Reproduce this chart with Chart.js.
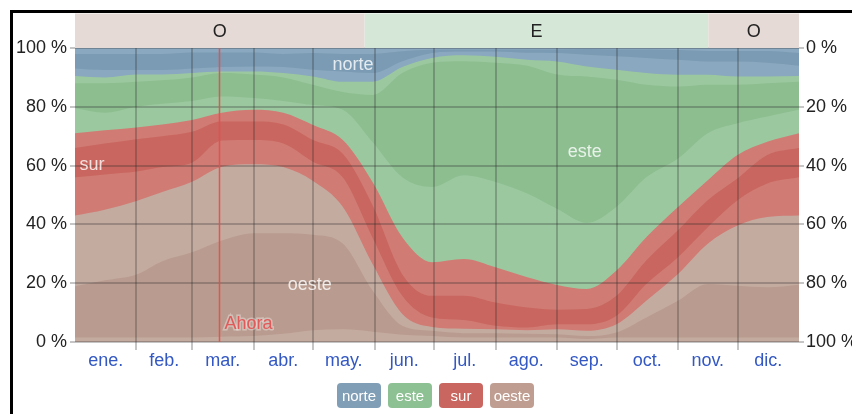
<!DOCTYPE html>
<html>
<head>
  <meta charset="UTF-8">
  <script src="https://cdn.jsdelivr.net/npm/chart.js"></script>
  <title>Dirección del viento</title>
  <style>
    body { margin: 0; width: 852px; height: 414px; overflow: hidden; background: #fff; font-family: "Liberation Sans", Arial, sans-serif; }
    .frame { position: absolute; left: 10px; top: 10px; width: 900px; height: 500px; border-left: 3px solid #000; border-top: 3px solid #000; }
    #windChart { position: absolute; left: 0; top: 0; }
    .legend { position: absolute; left: 337px; top: 383px; display: flex; gap: 7px; }
    .legend span { width: 44px; height: 25px; line-height: 25px; border-radius: 4px; color: #fff; font-size: 15px; text-align: center; }
  </style>
</head>
<body>
  <div class="frame"></div>
  <canvas id="windChart" width="852" height="414"></canvas>
  <div class="legend">
    <span style="background:#809eb6">norte</span>
    <span style="background:#8dc093">este</span>
    <span style="background:#c8665f">sur</span>
    <span style="background:#bf9e91">oeste</span>
  </div>
  <script>
    // dia del año de cada muestra
    var days = [0, 15, 31, 44, 59, 74, 90, 105, 120, 135, 150, 165, 180, 196, 212, 228, 243, 258, 273, 288, 304, 319, 334, 349, 365];

    // limites acumulados (%) de abajo hacia arriba
    var nwLow   = [1.5, 1.5, 1.5, 1.5, 1.5, 1.8, 2, 2.8, 4, 4.3, 3.5, 2.5, 2, 1.5, 1.5, 1.5, 1.5, 1, 1.5, 1.5, 1.5, 1.5, 1.5, 1.5, 1.5];
    var west    = [19, 21, 23, 27.5, 30.5, 34.5, 37, 37, 36.5, 33.5, 17.5, 5.5, 3.8, 3, 3, 2.8, 2.6, 2, 3.2, 8.3, 14, 19.7, 19.1, 18.6, 19.5];
    var swWest  = [43, 45, 48, 51, 54.5, 59.6, 60.5, 59.5, 54.8, 46, 26.5, 9.5, 5.1, 4.5, 4.3, 4, 4.3, 3.8, 6, 14, 23.1, 33.4, 39.6, 42.5, 43];
    var swSouth = [56, 57, 58, 59.5, 61, 68.5, 68.7, 67.5, 61.3, 56, 35.5, 15.7, 8.3, 7.5, 5.5, 4.9, 6, 6, 8.9, 19.7, 28.8, 39, 48.2, 53.9, 56];
    var south   = [66, 67.5, 69, 70, 71.5, 75, 75, 74, 68.7, 64, 46.5, 23, 15.7, 15.7, 13.4, 11.7, 11, 11.2, 15.7, 27.7, 38, 48.2, 55.6, 63.6, 66];
    var seSouth = [71, 72, 73, 74, 75.5, 78, 79, 78, 73.8, 68.7, 54.4, 35.6, 27.1, 28.2, 25.4, 22, 19.4, 18, 24.3, 35.6, 45.9, 55, 63.6, 68.1, 71];
    var seEast  = [79.5, 78, 80, 81, 82, 83.5, 83, 82, 80.6, 79, 68, 56, 52.7, 56.7, 54.4, 50.5, 45.3, 40.5, 46, 56, 62.4, 71, 74.4, 76.7, 79];
    var east    = [88, 88, 88.5, 89, 90, 91.5, 91, 90, 87.5, 85, 84, 91.5, 95, 95.5, 95, 94, 91, 90.3, 89.2, 87.5, 86.9, 87.5, 87.5, 88, 88.5];
    var neEast  = [90.5, 90, 91, 91, 91.5, 92, 92, 91.5, 90.3, 88.5, 88.5, 93.5, 96.6, 97.5, 97, 96, 95.4, 93.7, 92.6, 91.5, 90.9, 90.9, 90.3, 90.3, 90.5];
    var neNorth = [93, 92.5, 92.5, 92.5, 93, 93.5, 93.7, 93.5, 92.6, 92, 91.5, 95.5, 98.3, 98.8, 98.8, 98.4, 98.3, 97.7, 97.2, 96.6, 96, 95.4, 95.4, 95, 94];
    var north   = [98, 98, 98, 98, 98.5, 98.5, 98.5, 98, 98.3, 98, 98, 98.9, 99.4, 99.5, 99.5, 99.5, 99.5, 99.7, 99.5, 99.5, 99.3, 99, 99, 99, 98.3];

    var monthNames = ['ene.', 'feb.', 'mar.', 'abr.', 'may.', 'jun.', 'jul.', 'ago.', 'sep.', 'oct.', 'nov.', 'dic.'];
    var monthStarts = [0, 31, 59, 90, 120, 151, 181, 212, 243, 273, 304, 334, 365];

    // franja superior: direccion dominante
    var domLabels = ['O', 'E', 'O'];
    var domFrom = [0, 146, 319.3];
    var domTo = [146, 319.3, 365];

    var nowDay = 72.6;

    var brownL = '#c4aba0', brownD = '#b99c8f';
    var redL = '#d07b74', redD = '#c8665f';
    var greenL = '#9cc89f', greenD = '#8cbe90';
    var blueL = '#8aa8bf', blueD = '#7a9bb3';

    var bounds = [nwLow, west, swWest, swSouth, south, seSouth, seEast, east, neEast, neNorth, north];
    var colors = [brownL, brownD, brownL, redL, redD, redL, greenL, greenD, greenL, blueL, blueD];

    var datasets = bounds.map(function (arr, i) {
      return {
        data: days.map(function (d, j) { return { x: d, y: arr[j] }; }),
        fill: 'origin',
        backgroundColor: colors[i],
        borderWidth: 0,
        pointRadius: 0,
        cubicInterpolationMode: 'monotone'
      };
    });

    var tickDays = [];
    for (var m = 0; m < 12; m++) {
      tickDays.push(monthStarts[m]);
      tickDays.push((monthStarts[m] + monthStarts[m + 1]) / 2);
    }
    tickDays.push(365);

    var font = { family: '"Liberation Sans", Arial, sans-serif', size: 18 };
    var gridColor = 'rgba(40,40,40,0.27)';

    function isInnerStart(v) {
      return v > 0 && v < 365 && monthStarts.indexOf(v) >= 0;
    }

    var bandsPlugin = {
      id: 'bands',
      beforeDatasetsDraw: function (chart) {
        var c = chart.ctx, a = chart.chartArea;
        c.save();
        c.fillStyle = blueL;
        c.fillRect(a.left, a.top, a.right - a.left, a.bottom - a.top);
        c.restore();
      },
      afterDraw: function (chart) {
        var c = chart.ctx, a = chart.chartArea, xs = chart.scales.x, ys = chart.scales.y;
        c.save();
        // direccion dominante arriba
        for (var i = 0; i < domLabels.length; i++) {
          var x0 = xs.getPixelForValue(domFrom[i]), x1 = xs.getPixelForValue(domTo[i]);
          c.fillStyle = domLabels[i] === 'E' ? '#d5e7d7' : '#e6dad6';
          c.fillRect(x0, 13.5, x1 - x0, a.top - 13.5);
          c.fillStyle = '#222';
          c.font = '18px "Liberation Sans", Arial, sans-serif';
          c.textAlign = 'center';
          c.textBaseline = 'middle';
          c.fillText(domLabels[i], (x0 + x1) / 2, 32);
        }

        // nombres de las series
        c.fillStyle = 'rgba(255,255,255,0.8)';
        c.font = '18px "Liberation Sans", Arial, sans-serif';
        var names = [['norte', 140.2, 94.2], ['este', 257, 64.6], ['sur', 8.6, 60.2], ['oeste', 118.4, 19.4]];
        names.forEach(function (n) {
          c.fillText(n[0], xs.getPixelForValue(n[1]), ys.getPixelForValue(n[2]));
        });

        // linea de hoy
        var nx = Math.round(xs.getPixelForValue(nowDay)) + 0.5;
        c.strokeStyle = 'rgba(232,78,78,0.95)';
        c.lineWidth = 1.5;
        c.beginPath();
        c.moveTo(nx, a.top);
        c.lineTo(nx, a.bottom);
        c.stroke();
        c.textAlign = 'left';
        c.lineWidth = 3;
        c.strokeStyle = 'rgba(255,255,255,0.35)';
        c.strokeText('Ahora', nx + 5, a.bottom - 18);
        c.fillStyle = '#e05a5a';
        c.fillText('Ahora', nx + 5, a.bottom - 18);
        c.restore();
      }
    };

    var chart = new Chart(document.getElementById('windChart'), {
      type: 'line',
      data: { datasets: datasets },
      plugins: [bandsPlugin],
      options: {
        responsive: false,
        animation: false,
        devicePixelRatio: 1,
        layout: { padding: { top: 48, left: 0, right: 0, bottom: 0 } },
        plugins: { legend: { display: false }, tooltip: { enabled: false } },
        scales: {
          x: {
            type: 'linear', min: 0, max: 365,
            afterBuildTicks: function (s) { s.ticks = tickDays.map(function (v) { return { value: v }; }); },
            afterFit: function (s) { s.height = 72; },
            border: { display: false },
            grid: {
              z: 1,
              color: function (c) { return c.tick && isInnerStart(c.tick.value) ? gridColor : 'rgba(0,0,0,0)'; },
              lineWidth: 2,
              tickLength: 8
            },
            ticks: {
              autoSkip: false, maxRotation: 0, padding: 0,
              color: '#3358c4', font: font,
              callback: function (v) {
                var k = monthStarts.indexOf(v);
                if (k >= 0) return '';
                for (var i = 0; i < 12; i++) {
                  if (v > monthStarts[i] && v < monthStarts[i + 1]) return monthNames[i];
                }
                return '';
              }
            }
          },
          y: {
            position: 'left', min: 0, max: 100,
            afterFit: function (s) { s.width = 75; },
            border: { display: false },
            grid: { z: 1, color: gridColor, lineWidth: 2, tickLength: 5 },
            ticks: { stepSize: 20, padding: 3, color: '#222', font: font, callback: function (v) { return v + ' %'; } }
          },
          y2: {
            position: 'right', min: 0, max: 100, reverse: true,
            afterFit: function (s) { s.width = 53; },
            border: { display: false },
            grid: { z: 1, drawOnChartArea: false, color: gridColor, lineWidth: 2, tickLength: 5 },
            ticks: { stepSize: 20, padding: 2, color: '#222', font: font, callback: function (v) { return v + ' %'; } }
          }
        }
      }
    });
  </script>
</body>
</html>
